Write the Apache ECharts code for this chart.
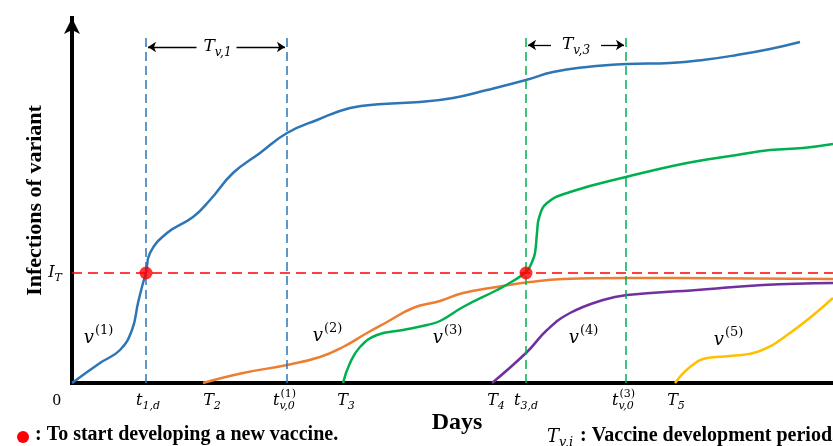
<!DOCTYPE html>
<html>
<head>
<meta charset="utf-8">
<script src="https://cdn.jsdelivr.net/npm/echarts@6/dist/echarts.min.js"></script>
<style>
  html, body { margin: 0; padding: 0; background: #fff; }
  #chart { width: 833px; height: 446px; }
</style>
</head>
<body>
<div id="chart"></div>
<script>
// event times on the day axis
const t1d = 74, T2 = 131, tv01 = 215, T3 = 271, T4 = 420, t3d = 454, tv03 = 554, T5 = 603;
// infection threshold
const IT = 110;

// cumulative infections of each variant [day, infections]
const v1 = [[0, 0], [28, 20], [48, 33], [60, 53], [66, 80], [71, 100], [74, 110], [78, 130], [95, 150],
  [121, 166], [138, 183], [161, 210], [188, 230], [215, 250], [245, 263], [278, 275], [311, 279],
  [348, 281], [381, 285], [415, 293], [454, 303], [481, 311], [515, 316], [555, 319], [598, 320],
  [631, 323], [665, 328], [698, 334], [728, 341]];
const v2 = [[131, 0], [171, 10], [215, 18], [248, 26], [271, 36], [295, 50], [315, 61], [341, 75],
  [368, 82], [391, 90], [425, 96], [458, 101], [491, 104], [558, 105], [761, 104]];
const v3 = [[271, 0], [278, 20], [288, 36], [305, 48], [331, 53], [355, 58], [368, 62], [391, 76],
  [425, 93], [441, 102], [455, 112], [460, 121], [463, 130], [465, 150], [467, 165], [475, 180],
  [498, 191], [554, 206], [615, 220], [665, 228], [698, 233], [731, 235], [761, 239]];
const v4 = [[420, 0], [455, 31], [475, 53], [498, 70], [531, 83], [555, 88], [625, 93], [691, 98], [761, 100]];
const v5 = [[603, 0], [618, 16], [635, 25], [658, 27], [685, 31], [718, 50], [761, 85]];

// vaccine development starts
const starts = [[t1d, IT], [t3d, IT]];

const tickLabels = [
  { at: 0, base: '0', plain: true, dx: -14 },
  { at: t1d, base: 't', sub: '1,d', dx: 2 },
  { at: T2, base: 'T', sub: '2', dx: 9 },
  { at: tv01, base: 't', sub: 'v,0', sup: '(1)', dx: -3 },
  { at: T3, base: 'T', sub: '3', dx: 3 },
  { at: T4, base: 'T', sub: '4', dx: 4 },
  { at: t3d, base: 't', sub: '3,d', dx: 0 },
  { at: tv03, base: 't', sub: 'v,0', sup: '(3)', dx: -3 },
  { at: T5, base: 'T', sub: '5', dx: 1 }
];
const curveLabels = [
  { at: [26, 45], sup: '(1)' },
  { at: [255, 47], sup: '(2)' },
  { at: [375, 45], sup: '(3)' },
  { at: [511, 45], sup: '(4)' },
  { at: [656, 43], sup: '(5)' }
];

const SERIF = '"Liberation Serif", serif';
const MATH = '"DejaVu Serif", serif';
const chart = echarts.init(document.getElementById('chart'));

function curve(name, data, color, markLine) {
  return {
    name: name, type: 'line', data: data, showSymbol: false, symbol: 'none',
    smooth: 0.45,
    lineStyle: { color: color, width: 2.5 },
    markLine: markLine, z: 3
  };
}
function dashedVert(xs, color) {
  return {
    silent: true, symbol: 'none',
    lineStyle: { color: color, width: 1.5, type: [9, 5] },
    label: { show: false },
    data: xs.map(x => [{ coord: [x, 0] }, { coord: [x, 345] }])
  };
}
function spanArrows(from, to, y, half) {
  const mid = (from + to) / 2;
  return [
    [{ coord: [from + 2, y], symbol: 'arrow' }, { coord: [mid - half, y], symbol: 'none' }],
    [{ coord: [mid + half, y], symbol: 'none' }, { coord: [to - 2, y], symbol: 'arrow' }]
  ];
}

chart.setOption({
  animation: false,
  grid: { left: 72, right: 0, top: 18, bottom: 63, outerBoundsMode: 'none' },
  xAxis: {
    type: 'value', min: 0, max: 761,
    axisLine: { lineStyle: { color: '#000', width: 4, cap: 'square' } },
    axisTick: { show: false }, axisLabel: { show: false }, splitLine: { show: false }
  },
  yAxis: {
    type: 'value', min: 0, max: 365,
    axisLine: { show: true, symbol: ['none', 'arrow'], symbolSize: [12, 16],
      lineStyle: { color: '#000', width: 4, cap: 'square' } },
    axisTick: { show: false }, axisLabel: { show: false }, splitLine: { show: false }
  },
  series: [
    curve('v1', v1, '#2e75b6', dashedVert([t1d, tv01], '#2e75b6')),
    curve('v2', v2, '#ed7d31'),
    curve('v3', v3, '#00b050', dashedVert([t3d, tv03], '#00b050')),
    curve('v4', v4, '#7030a0'),
    curve('v5', v5, '#ffc000'),
    {
      name: 'start', type: 'scatter', data: starts, symbolSize: 13,
      itemStyle: { color: '#ff0000' }, z: 5,
      markLine: {
        silent: true, symbol: 'none',
        lineStyle: { color: '#ff0000', width: 1.5, type: [10, 6] },
        label: { show: false },
        data: [{ yAxis: IT }]
      }
    },
    {
      name: 'periods', type: 'line', data: [],
      markLine: {
        silent: true, symbolSize: 8,
        lineStyle: { color: '#000', width: 1.3, type: 'solid' },
        label: { show: false },
        data: spanArrows(t1d, tv01, 336, 20).concat(spanArrows(t3d, tv03, 338, 25))
      }
    }
  ]
});

// text labels with sub/superscripts
const ctx = document.createElement('canvas').getContext('2d');
function textW(str, font) { ctx.font = font; return ctx.measureText(str).width; }

function mathText(cx, cy, base, sub, sup, size, plain) {
  const bs = size, ss = Math.round(size * 0.7);
  const bStyle = plain ? 'normal' : 'italic';
  const bw = textW(base, bStyle + ' ' + bs + 'px ' + MATH);
  const sw = Math.max(sub ? textW(sub, 'italic ' + ss + 'px ' + MATH) : 0,
                      sup ? textW(sup, 'normal ' + ss + 'px ' + MATH) : 0);
  const x0 = cx - (bw + sw) / 2;
  const els = [{
    type: 'text', x: x0, y: cy, silent: true,
    style: { text: base, fontFamily: plain ? SERIF : MATH, fontStyle: bStyle, fontSize: bs, fill: '#000',
      align: 'left', verticalAlign: 'middle' }
  }];
  if (sub) els.push({
    type: 'text', x: x0 + bw, y: cy + bs * 0.32, silent: true,
    style: { text: sub, fontFamily: MATH, fontStyle: 'italic', fontSize: ss, fill: '#000',
      align: 'left', verticalAlign: 'middle' }
  });
  if (sup) els.push({
    type: 'text', x: x0 + bw + 1, y: cy - bs * 0.42, silent: true,
    style: { text: sup, fontFamily: MATH, fontSize: ss, fill: '#000',
      align: 'left', verticalAlign: 'middle' }
  });
  return els;
}

const px = p => chart.convertToPixel({ gridIndex: 0 }, p);
let graphics = [];
const axisY = px([0, 0])[1];
tickLabels.forEach(t => {
  const x = px([t.at, 0])[0] + (t.dx || 0);
  graphics = graphics.concat(mathText(x, axisY + 18, t.base, t.sub, t.sup, t.plain ? 17 : 16, t.plain));
});
curveLabels.forEach(c => {
  const p = px(c.at);
  graphics = graphics.concat(mathText(p[0], p[1], 'v', null, c.sup, 18));
});
const itY = px([0, IT])[1];
graphics = graphics.concat(mathText(55, itY, 'I', 'T', null, 16));
const a1 = px([(t1d + tv01) / 2, 336]);
graphics = graphics.concat(mathText(a1[0] + 1, a1[1], 'T', 'v,1', null, 17));
const a3 = px([(t3d + tv03) / 2, 338]);
graphics = graphics.concat(mathText(a3[0], a3[1], 'T', 'v,3', null, 17));

// axis titles
graphics.push({
  type: 'text', x: 35, y: (px([0, 365])[1] + axisY) / 2, rotation: Math.PI / 2, silent: true,
  style: { text: 'Infections of variant', fontFamily: SERIF, fontWeight: 'bold', fontSize: 22,
    fill: '#000', align: 'center', verticalAlign: 'middle' }
});
graphics.push({
  type: 'text', x: 457, y: 423, silent: true,
  style: { text: 'Days', fontFamily: SERIF, fontWeight: 'bold', fontSize: 24,
    fill: '#000', align: 'center', verticalAlign: 'middle' }
});

// notes at the bottom
graphics.push({ type: 'circle', shape: { cx: 23, cy: 437, r: 6 }, style: { fill: '#ff0000' }, silent: true });
graphics.push({
  type: 'text', x: 35, y: 435, silent: true,
  style: { text: ': To start developing a new vaccine.', fontFamily: SERIF, fontWeight: 'bold',
    fontSize: 20, fill: '#000', align: 'left', verticalAlign: 'middle' }
});
graphics = graphics.concat(mathText(560, 437, 'T', 'v,i', null, 18));
graphics.push({
  type: 'text', x: 580, y: 436, silent: true,
  style: { text: ': Vaccine development period.', fontFamily: SERIF, fontWeight: 'bold',
    fontSize: 20, fill: '#000', align: 'left', verticalAlign: 'middle' }
});

chart.setOption({ graphic: graphics });
</script>
</body>
</html>
